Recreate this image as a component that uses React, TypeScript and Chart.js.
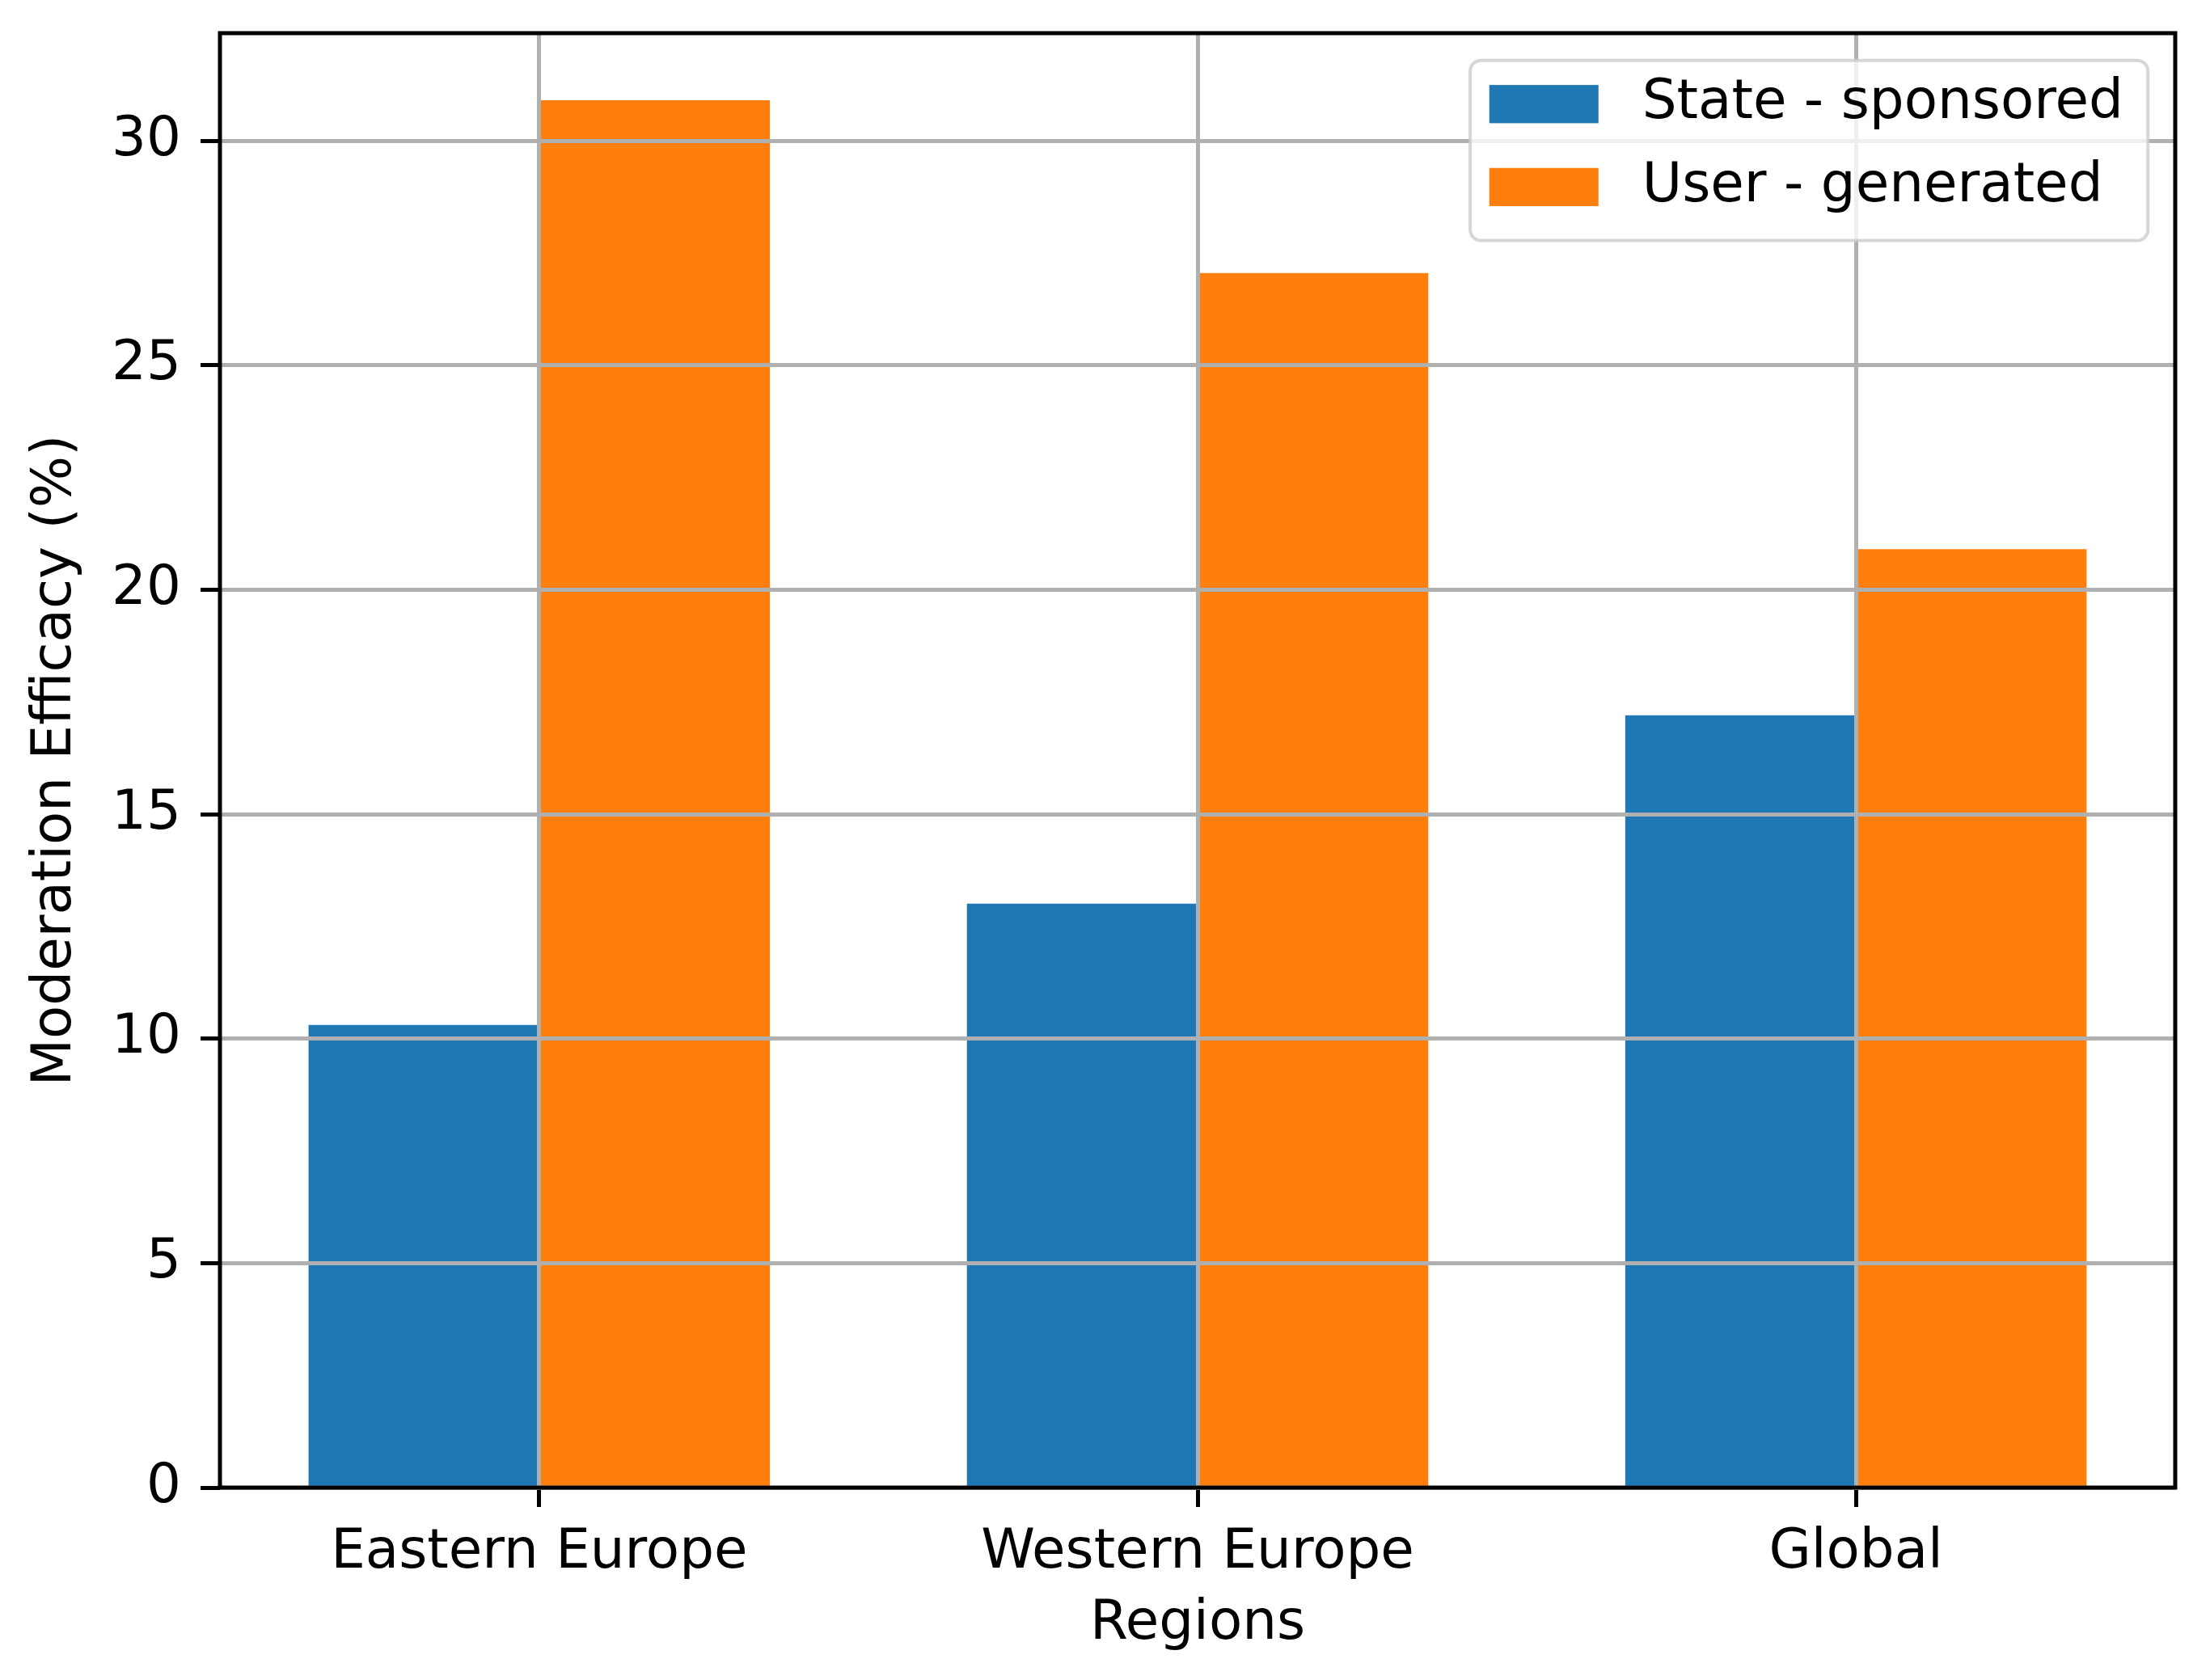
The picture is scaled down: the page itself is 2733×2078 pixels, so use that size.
import React, { useEffect, useRef } from "react";
import { Chart, registerables } from "chart.js";

Chart.register(...registerables);

// ---- data ----
const categories = ["Eastern Europe", "Western Europe", "Global"];
const stateSponsored = [10.3, 13.0, 17.2];
const userGenerated = [30.9, 27.05, 20.9];
const seriesLabels = ["State - sponsored", "User - generated"];
const yTicks = [0, 5, 10, 15, 20, 25, 30];
const xTitle = "Regions";
const yTitle = "Moderation Efficacy (%)";

// ---- layout / style ----
const W = 2733;
const H = 2078;
const FONT = "DejaVu Sans";
const FS = 67.5;
const BAR_W = 0.35;
const X_MIN = -0.485;
const X_MAX = 2.485;
const Y_MAX = 32.4;
const COLORS = ["#1f77b4", "#ff7f0e"];
const GRID = "#b0b0b0";
const LW = 5;
const TICK_LEN = 24;

const overlayPlugin = {
  id: "overlay",
  afterDraw(chart: any) {
    const { ctx, chartArea: a } = chart;
    ctx.save();
    // full frame (spines)
    ctx.strokeStyle = "#000";
    ctx.lineWidth = LW;
    ctx.strokeRect(a.left, a.top, a.right - a.left, a.bottom - a.top);

    // legend
    const em = FS;
    ctx.font = `${FS}px "${FONT}"`;
    const labels: string[] = chart.data.datasets.map((d: any) => d.label);
    const colors: string[] = chart.data.datasets.map((d: any) => d.backgroundColor);
    const tw = Math.max(...labels.map((l) => ctx.measureText(l).width));
    const boxW = 0.35 * em + 2 * em + 0.8 * em + tw + 0.45 * em;
    const boxH = 3.3 * em;
    const x0 = a.right - 0.5 * em - boxW;
    const y0 = a.top + 0.5 * em;
    const r = 0.2 * em;
    ctx.beginPath();
    ctx.moveTo(x0 + r, y0);
    ctx.lineTo(x0 + boxW - r, y0);
    ctx.arcTo(x0 + boxW, y0, x0 + boxW, y0 + r, r);
    ctx.lineTo(x0 + boxW, y0 + boxH - r);
    ctx.arcTo(x0 + boxW, y0 + boxH, x0 + boxW - r, y0 + boxH, r);
    ctx.lineTo(x0 + r, y0 + boxH);
    ctx.arcTo(x0, y0 + boxH, x0, y0 + boxH - r, r);
    ctx.lineTo(x0, y0 + r);
    ctx.arcTo(x0, y0, x0 + r, y0, r);
    ctx.closePath();
    ctx.fillStyle = "rgba(255,255,255,0.8)";
    ctx.fill();
    ctx.strokeStyle = "rgba(204,204,204,0.8)";
    ctx.lineWidth = 4;
    ctx.stroke();

    const rowY = [0.8, 2.32];
    labels.forEach((lab, i) => {
      const cy = y0 + rowY[i] * em;
      ctx.fillStyle = colors[i];
      ctx.fillRect(x0 + 0.35 * em, cy - 0.35 * em, 2 * em, 0.7 * em);
      ctx.fillStyle = "#000";
      ctx.textBaseline = "middle";
      ctx.textAlign = "left";
      ctx.fillText(lab, x0 + 3.15 * em, cy);
    });
    ctx.restore();
  },
};

export default function App() {
  const ref = useRef<HTMLCanvasElement | null>(null);

  useEffect(() => {
    document.body.style.margin = "0";
    document.body.style.overflow = "hidden";
    const canvas = ref.current;
    if (!canvas) return;

    const chart = new Chart(canvas, {
      type: "bar",
      data: {
        datasets: [
          {
            label: seriesLabels[0],
            data: categories.map((_, i) => ({ x: i - BAR_W / 2, y: stateSponsored[i] })),
            backgroundColor: COLORS[0],
          },
          {
            label: seriesLabels[1],
            data: categories.map((_, i) => ({ x: i + BAR_W / 2, y: userGenerated[i] })),
            backgroundColor: COLORS[1],
          },
        ],
      } as any,
      options: {
        responsive: false,
        animation: false,
        devicePixelRatio: 1,
        layout: { padding: { left: 0, top: 41, right: 43, bottom: 0 } },
        datasets: {
          bar: {
            grouped: false,
            categoryPercentage: 1,
            barPercentage: 1,
            borderWidth: 0,
          },
        } as any,
        plugins: {
          legend: { display: false },
          tooltip: { enabled: false },
        },
        scales: {
          x: {
            type: "linear",
            offset: false,
            min: X_MIN,
            max: X_MAX,
            afterBuildTicks: (s: any) => {
              s.ticks = categories.map((_, i) => ({ value: i }));
            },
            afterFit: (s: any) => {
              s.height = 238;
              s.paddingLeft = 0;
              s.paddingRight = 0;
            },
            ticks: {
              callback: (v: any) => categories[v as number] ?? "",
              font: { family: FONT, size: FS },
              color: "#000",
              padding: 17,
              autoSkip: false,
              maxRotation: 0,
              minRotation: 0,
            },
            grid: {
              offset: false,
              color: GRID,
              lineWidth: LW,
              z: 1,
              drawTicks: true,
              tickLength: TICK_LEN,
              tickColor: "#000",
              tickWidth: LW,
            },
            border: { display: false },
            title: {
              display: true,
              text: xTitle,
              font: { family: FONT, size: FS },
              color: "#000",
              padding: { top: 0, bottom: 28 },
            },
          },
          y: {
            type: "linear",
            min: 0,
            max: Y_MAX,
            afterBuildTicks: (s: any) => {
              s.ticks = yTicks.map((v) => ({ value: v }));
            },
            afterFit: (s: any) => {
              s.width = 272;
              s.paddingTop = 0;
              s.paddingBottom = 0;
            },
            ticks: {
              font: { family: FONT, size: FS },
              color: "#000",
              padding: 24,
            },
            grid: {
              color: GRID,
              lineWidth: LW,
              z: 1,
              drawTicks: true,
              tickLength: TICK_LEN,
              tickColor: "#000",
              tickWidth: LW,
            },
            border: { display: false },
            title: {
              display: true,
              text: yTitle,
              font: { family: FONT, size: FS },
              color: "#000",
              padding: { top: 29, bottom: 0 },
            },
          },
        },
      } as any,
      plugins: [overlayPlugin],
    });

    return () => chart.destroy();
  }, []);

  return (
    <canvas
      ref={ref}
      width={W}
      height={H}
      style={{ display: "block", width: W, height: H }}
    />
  );
}
